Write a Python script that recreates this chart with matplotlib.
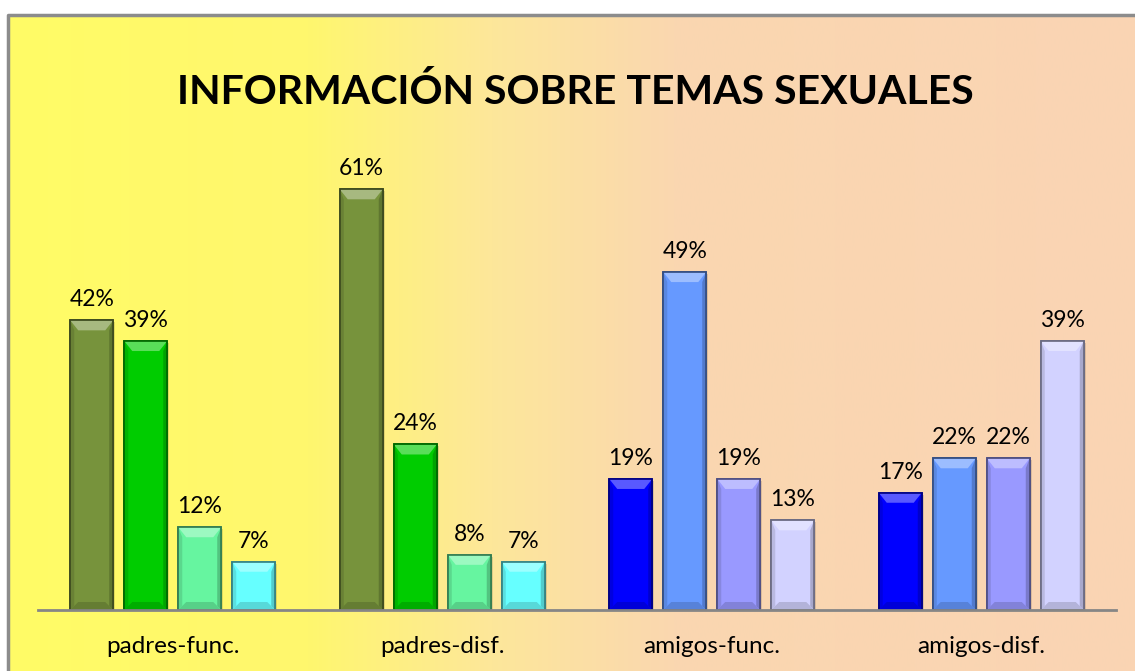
import matplotlib.pyplot as plt
import numpy as np
from matplotlib.colors import LinearSegmentedColormap, to_rgb
from matplotlib.patches import Polygon, Rectangle

plt.rcParams['font.family'] = ['Lato', 'DejaVu Sans']

titulo = "INFORMACIÓN SOBRE TEMAS SEXUALES"
grupos = ['padres-func.', 'padres-disf.', 'amigos-func.', 'amigos-disf.']
valores = [
    [0.42, 0.39, 0.12, 0.07],
    [0.61, 0.24, 0.08, 0.07],
    [0.19, 0.49, 0.19, 0.13],
    [0.17, 0.22, 0.22, 0.39],
]
colores_padres = ['#77933C', '#00CC00', '#66F5A0', '#66FFFF']
colores_amigos = ['#0000FF', '#6699FF', '#9999FF', '#D2D2FF']
colores = [colores_padres, colores_padres, colores_amigos, colores_amigos]

W, H = 1135, 671
fig = plt.figure(figsize=(W / 100, H / 100), dpi=100)

# fondo con degradado (sale del lienzo por la derecha y por abajo)
bg = fig.add_axes([8 / W, -0.02, 1.02 - 8 / W, 1.02 - 15 / H])
grad = LinearSegmentedColormap.from_list('bg', [
    (0.0, '#FFFC66'), (0.26, '#FFF76E'), (0.42, '#FDE79A'),
    (0.58, '#FAD7B0'), (1.0, '#FAD4B4')])
bg.imshow(np.linspace(0, 1, 512)[None, :], cmap=grad, aspect='auto',
          extent=[0, 1, 0, 1])
bg.plot([0, 0, 1], [0, 1, 1], color='#8C8C8C', lw=2.5, transform=bg.transAxes,
        clip_on=False)
bg.set_xlim(0, 1)
bg.set_ylim(0, 1)
bg.axis('off')

fig.text(0.507, 1 - 92 / H, titulo, ha='center', va='center',
         fontsize=29.5, fontweight='bold', color='black')

ax = fig.add_axes([38 / W, 1 - 610 / H, 1078 / W, 460 / H])
ax.patch.set_alpha(0)
ymax = 0.667
ax.set_xlim(-0.5, 3.5)
ax.set_ylim(0, ymax)

px = 4.0 / 1078
py = ymax / 460
ancho = 43 * px
offsets = np.array([-1.5, -0.5, 0.5, 1.5]) * 54 * px

def oscuro(c, f):
    r, g, b = to_rgb(c)
    return (r * f, g * f, b * f)

def claro(c, f):
    r, g, b = to_rgb(c)
    return (r + (1 - r) * f, g + (1 - g) * f, b + (1 - b) * f)

for i, g in enumerate(grupos):
    for j in range(4):
        v = valores[i][j]
        c = colores[i][j]
        x0 = i + offsets[j] - ancho / 2
        # sombra
        ax.add_patch(Rectangle((x0 + 2 * px, -2 * py), ancho, v, color='black',
                               alpha=0.12, lw=0, zorder=1))
        ax.bar(i + offsets[j], v, width=ancho, color=c,
               edgecolor=oscuro(c, 0.55), linewidth=1.2, zorder=2)
        bx, by = 8 * px, 10 * py
        x1 = x0 + ancho
        # bisel superior
        ax.add_patch(Polygon([(x0, v), (x1, v), (x1 - bx, v - by), (x0 + bx, v - by)],
                             closed=True, color=claro(c, 0.35), lw=0, zorder=3))
        # laterales
        ax.add_patch(Polygon([(x0, v), (x0 + 4 * px, v - by), (x0 + 4 * px, 4 * py), (x0, 0)],
                             closed=True, color=oscuro(c, 0.88), lw=0, zorder=3))
        ax.add_patch(Polygon([(x1, v), (x1 - 4 * px, v - by), (x1 - 4 * px, 4 * py), (x1, 0)],
                             closed=True, color=oscuro(c, 0.8), lw=0, zorder=3))
        ax.add_patch(Polygon([(x0, 0), (x1, 0), (x1 - bx, 8 * py), (x0 + bx, 8 * py)],
                             closed=True, color=oscuro(c, 0.85), lw=0, zorder=3))
        ax.add_patch(Rectangle((x0, 0), ancho, v, fill=False,
                               edgecolor=oscuro(c, 0.5), lw=1.2, zorder=4))
        ax.text(i + offsets[j], v + 10 * py, f"{round(v * 100)}%", ha='center',
                va='bottom', fontsize=16.5, color='black', zorder=5)

ax.set_xticks(range(4))
ax.set_xticklabels(grupos, fontsize=17.5)
ax.tick_params(axis='x', length=0, pad=19)
ax.set_yticks([])
for s in ['left', 'right', 'top']:
    ax.spines[s].set_visible(False)
ax.spines['bottom'].set_color('#868686')
ax.spines['bottom'].set_linewidth(2)
ax.spines['bottom'].set_zorder(6)

fig.savefig('out.png', dpi=100)
